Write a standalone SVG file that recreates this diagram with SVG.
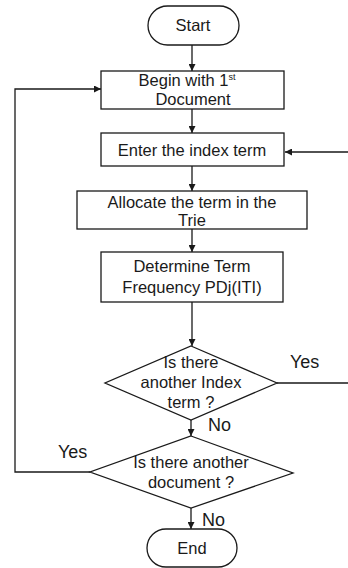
<svg xmlns="http://www.w3.org/2000/svg" width="348" height="568" viewBox="0 0 348 568">
<defs>
<marker id="arr" viewBox="0 0 10 10" refX="10" refY="5" markerWidth="7" markerHeight="7" markerUnits="userSpaceOnUse" orient="auto">
<path d="M0,0 L10,5 L0,10 z" fill="#1a1a1a"/>
</marker>
<style>
.shape{fill:#fff;stroke:#1a1a1a;stroke-width:1.3}
.t{font-family:"Liberation Sans",Arial,sans-serif;font-size:16.5px;fill:#1a1a1a;text-anchor:middle}
.lbl{font-family:"Liberation Sans",Arial,sans-serif;font-size:18px;fill:#1a1a1a}
.c{fill:none;stroke:#1a1a1a;stroke-width:1.3}
</style>
</defs>
<rect width="348" height="568" fill="#fff"/>
<g id="connectors">
<path class="c" d="M192,45 V71" marker-end="url(#arr)"/>
<path class="c" d="M192,109 V133" marker-end="url(#arr)"/>
<path class="c" d="M192,166 V191" marker-end="url(#arr)"/>
<path class="c" d="M192,229 V252" marker-end="url(#arr)"/>
<path class="c" d="M192,302 V346" marker-end="url(#arr)"/>
<path class="c" d="M191,420 V436" marker-end="url(#arr)"/>
<path class="c" d="M191,508 V529" marker-end="url(#arr)"/>
<path class="c" d="M277,383 H352 V152 H285" marker-end="url(#arr)"/>
<path class="c" d="M90,472 H15 V89 H101" marker-end="url(#arr)"/>
<text class="lbl" x="290" y="368">Yes</text>
<text class="lbl" x="208" y="431">No</text>
<text class="lbl" x="58" y="458">Yes</text>
<text class="lbl" x="202" y="526">No</text>
</g>
<g id="start">
<rect class="shape" x="148" y="6" width="91" height="39" rx="19.5"/>
<text class="t" x="193" y="31">Start</text>
</g>
<g id="begin">
<rect class="shape" x="101" y="71" width="183" height="38"/>
<text class="t" x="187" y="86">Begin with 1<tspan font-size="9" dy="-6">st</tspan></text>
<text class="t" x="193" y="105">Document</text>
</g>
<g id="enter">
<rect class="shape" x="101" y="133" width="183" height="33"/>
<text class="t" x="192" y="156">Enter the index term</text>
</g>
<g id="allocate">
<rect class="shape" x="77" y="191" width="230" height="38"/>
<text class="t" x="192" y="208">Allocate the term in the</text>
<text class="t" x="192" y="226">Trie</text>
</g>
<g id="determine">
<rect class="shape" x="101" y="252" width="182" height="50"/>
<text class="t" x="192" y="272">Determine Term</text>
<text class="t" x="192" y="293">Frequency PDj(ITI)</text>
</g>
<g id="decision1">
<path class="shape" d="M191,346 L277,383 L191,420 L105,383 Z"/>
<text class="t" x="191" y="368">Is there</text>
<text class="t" x="191" y="388">another Index</text>
<text class="t" x="191" y="408">term ?</text>
</g>
<g id="decision2">
<path class="shape" d="M191,436 L293,473 L191,508 L90,472 Z"/>
<text class="t" x="191" y="468">Is there another</text>
<text class="t" x="191" y="488">document ?</text>
</g>
<g id="end">
<rect class="shape" x="147" y="529" width="90" height="38" rx="19"/>
<text class="t" x="192" y="554">End</text>
</g>
</svg>
